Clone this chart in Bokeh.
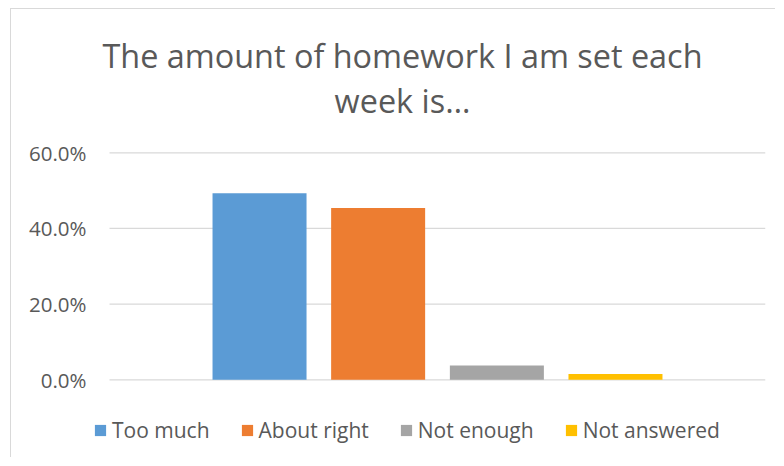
from bokeh.plotting import figure
from bokeh.models import (ColumnDataSource, Range1d, NumeralTickFormatter,
                          Legend, LegendItem, Label)
from bokeh.embed import file_html
from bokeh.resources import INLINE

# ---- data ----
categories = ["Too much", "About right", "Not enough", "Not answered"]
values = [0.493, 0.454, 0.038, 0.015]
y_ticks = [0.0, 0.2, 0.4, 0.6]
title_lines = ["The amount of homework I am set each", "week is…"]

# ---- style / layout ----
colors = ["#5B9BD5", "#ED7D31", "#A5A5A5", "#FFC000"]
slot_centers = [0.2287, 0.4095, 0.5905, 0.7713]   # cluster positions inside the single category (0..1)
bar_width = 0.1433
FONT = "Open Sans"
TXT = "#595959"
GRID = "#D9D9D9"
title_x = 0.4466
title_y = [0.8598, 0.7408]

p = figure(width=765, height=449, x_range=Range1d(-0.0244, 1.0),
           y_range=Range1d(-0.2081, 0.9788), output_backend="svg", toolbar_location=None,
           min_border_left=82, min_border_right=11, min_border_top=0,
           min_border_bottom=0)
p.styles = {"border-top": "1px solid #d9d9d9", "border-left": "1px solid #d9d9d9",
            "margin-left": "10px", "margin-top": "8px"}
p.outline_line_color = None
p.background_fill_color = "white"
p.border_fill_color = "white"

# horizontal gridlines at the value-axis ticks, spanning the category band
p.segment(x0=0, x1=1, y0=y_ticks, y1=y_ticks, line_color=GRID, line_width=1.3)

items = []
for i, c in enumerate(categories):
    src = ColumnDataSource({"x": [slot_centers[i]], "top": [values[i]]})
    r = p.vbar(x="x", top="top", bottom=0, width=bar_width, source=src,
               fill_color=colors[i], line_color=None)
    items.append(LegendItem(label=c, renderers=[r]))

p.xaxis.visible = False
p.xgrid.visible = False
p.ygrid.visible = False
p.yaxis.ticker = y_ticks
p.yaxis.formatter = NumeralTickFormatter(format="0.0%")
p.yaxis.axis_line_color = None
p.yaxis.major_tick_line_color = None
p.yaxis.minor_tick_line_color = None
p.yaxis.major_label_standoff = 1
p.yaxis.major_label_text_font = FONT
p.yaxis.major_label_text_font_size = "20.5px"
p.yaxis.major_label_text_color = TXT

legend = Legend(items=items, orientation="horizontal", location=(0, 14),
                glyph_width=14, glyph_height=14, label_standoff=5, spacing=30,
                padding=0, margin=0, border_line_color=None, background_fill_alpha=0,
                label_text_font=FONT, label_text_font_size="21px", label_text_color=TXT)
p.add_layout(legend)

for line, ty in zip(title_lines, title_y):
    p.add_layout(Label(x=title_x, y=ty, text=line, text_align="center",
                       text_baseline="alphabetic", text_font=FONT,
                       text_font_size="32.4px", text_color=TXT))

open("out.html", "w").write(file_html(p, INLINE))
